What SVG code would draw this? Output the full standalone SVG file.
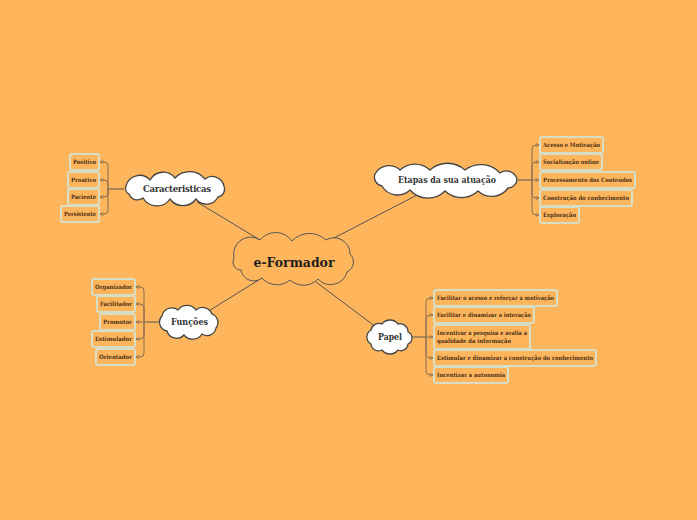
<svg xmlns="http://www.w3.org/2000/svg" width="697" height="520" viewBox="0 0 697 520">
<defs>
<style>
.bg{fill:#FFB55B}
.box{fill:#FFB55B;stroke:#D8DDC5;stroke-width:2}
.lt{font-family:"DejaVu Serif",serif;font-size:6px;font-weight:bold;fill:#4a2e16}
.br{fill:none;stroke:#8a6d50;stroke-width:1}
.ln{fill:none;stroke:#555;stroke-width:1}
.cl{fill:#fff;stroke:#444;stroke-width:1.3}
.cc{fill:#FFB55B;stroke:#555;stroke-width:1}
.ct{font-family:"DejaVu Serif",serif;font-size:8.5px;font-weight:bold;fill:#333;text-anchor:middle}
.mt{font-family:"DejaVu Serif",serif;font-size:13px;font-weight:bold;fill:#1e1e1e;text-anchor:middle}
</style>
<marker id="ar" markerWidth="5" markerHeight="5" refX="4" refY="2" orient="auto" markerUnits="userSpaceOnUse">
<path d="M0.5,0.3 L4,2 L0.5,3.7" fill="none" stroke="#8a6d50" stroke-width="0.8"/>
</marker>
</defs>
<rect class="bg" x="0" y="0" width="697" height="520"/>

<g id="connectors">
<line class="ln" x1="197" y1="202" x2="260" y2="240"/>
<line class="ln" x1="423" y1="192" x2="330" y2="240"/>
<line class="ln" x1="207" y1="312" x2="262" y2="278"/>
<line class="ln" x1="376" y1="327" x2="316" y2="282"/>
<line class="ln" x1="124" y1="189" x2="108" y2="189"/>
<line class="ln" x1="518" y1="180" x2="532" y2="180"/>
<line class="ln" x1="159" y1="322" x2="144" y2="322"/>
<line class="ln" x1="411" y1="337" x2="426" y2="337"/>
<path class="br" marker-end="url(#ar)" d="M108,189 L108,166 Q108,162 104,162 L100,162"/>
<path class="br" marker-end="url(#ar)" d="M108,189 L108,184 Q108,180 104,180 L100,180"/>
<path class="br" marker-end="url(#ar)" d="M108,189 L108,193 Q108,197 104,197 L100,197"/>
<path class="br" marker-end="url(#ar)" d="M108,189 L108,210 Q108,214 104,214 L100,214"/>
<path class="br" marker-end="url(#ar)" d="M532,180 L532,149 Q532,145 536,145 L539,145"/>
<path class="br" marker-end="url(#ar)" d="M532,180 L532,166 Q532,162 536,162 L539,162"/>
<path class="br" marker-end="url(#ar)" d="M532,180 L539,180"/>
<path class="br" marker-end="url(#ar)" d="M532,180 L532,194 Q532,198 536,198 L539,198"/>
<path class="br" marker-end="url(#ar)" d="M532,180 L532,211 Q532,215 536,215 L539,215"/>
<path class="br" marker-end="url(#ar)" d="M144,322 L144,291 Q144,287 140,287 L136,287"/>
<path class="br" marker-end="url(#ar)" d="M144,322 L144,308 Q144,304 140,304 L136,304"/>
<path class="br" marker-end="url(#ar)" d="M144,322 L136,322"/>
<path class="br" marker-end="url(#ar)" d="M144,322 L144,335 Q144,339 140,339 L136,339"/>
<path class="br" marker-end="url(#ar)" d="M144,322 L144,353 Q144,357 140,357 L136,357"/>
<path class="br" marker-end="url(#ar)" d="M426,337 L426,302 Q426,298 430,298 L433,298"/>
<path class="br" marker-end="url(#ar)" d="M426,337 L426,319 Q426,315 430,315 L433,315"/>
<path class="br" marker-end="url(#ar)" d="M426,337 L433,337"/>
<path class="br" marker-end="url(#ar)" d="M426,337 L426,354 Q426,358 430,358 L433,358"/>
<path class="br" marker-end="url(#ar)" d="M426,337 L426,371 Q426,375 430,375 L433,375"/>
</g>

<g id="central">
<path class="cc" d="M234,258 A17,17 0 0 1 260,240 A20,20 0 0 1 292,241 A24,24 0 0 1 326,240 A16,16 0 0 1 350,254 A11,11 0 0 1 347,272 A17,17 0 0 1 318,279 A20,20 0 0 1 290,280 A20,20 0 0 1 262,278 A13,13 0 0 1 241,270 A8,8 0 0 1 234,258 Z"/>
<text class="mt" x="294" y="267" textLength="81" lengthAdjust="spacingAndGlyphs">e-Formador</text>
</g>

<g id="caracteristicas">
<path class="cl" d="M126,186 A14,14 0 0 1 150,180 A15,15 0 0 1 175,178 A20,20 0 0 1 205,179 A12,12 0 0 1 224,186 A8,8 0 0 1 218,197 A13,13 0 0 1 196,199 A16,16 0 0 1 170,199 A16,16 0 0 1 143,198 A9,9 0 0 1 129,194 A6,6 0 0 1 126,186 Z"/>
<text class="ct" x="177" y="192" textLength="68" lengthAdjust="spacing">Caracteristicas</text>
</g>

<g id="etapas">
<path class="cl" d="M375,174 A16,16 0 0 1 400,170 A22,22 0 0 1 430,170 A26,26 0 0 1 465,170 A26,26 0 0 1 500,173 A11,11 0 0 1 517,179 A9,9 0 0 1 508,188 A20,20 0 0 1 478,191 A24,24 0 0 1 445,191 A24,24 0 0 1 410,190 A18,18 0 0 1 382,186 A9,9 0 0 1 375,174 Z"/>
<text class="ct" x="447" y="183" textLength="98" lengthAdjust="spacingAndGlyphs">Etapas da sua atuação</text>
</g>

<g id="funcoes">
<path class="cl" d="M162,316 A10,10 0 0 1 178,310 A11,11 0 0 1 196,310 A10,10 0 0 1 212,314 A9,9 0 0 1 216,328 A9,9 0 0 1 202,334 A11,11 0 0 1 184,335 A10,10 0 0 1 167,331 A9,9 0 0 1 162,316 Z"/>
<text class="ct" x="189.5" y="325" textLength="37" lengthAdjust="spacingAndGlyphs">Funções</text>
</g>

<g id="papel">
<path class="cl" d="M371,330 A8,8 0 0 1 382,324 A10,10 0 0 1 398,324 A8,8 0 0 1 408,332 A6.5,6.5 0 0 1 408,344 A7,7 0 0 1 398,350 A10,10 0 0 1 382,350 A7.5,7.5 0 0 1 371,344 A8,8 0 0 1 371,330 Z"/>
<text class="ct" x="390" y="340" textLength="24" lengthAdjust="spacingAndGlyphs">Papel</text>
</g>

<g id="c-positivo"><rect class="box" x="70" y="154" width="29" height="16" rx="2"/><text class="lt" x="73" y="164" textLength="23" lengthAdjust="spacingAndGlyphs">Positivo</text></g>
<g id="c-proativo"><rect class="box" x="68" y="172" width="31" height="16" rx="2"/><text class="lt" x="71" y="182" textLength="25" lengthAdjust="spacingAndGlyphs">Proativo</text></g>
<g id="c-paciente"><rect class="box" x="68" y="189" width="31" height="16" rx="2"/><text class="lt" x="71" y="199" textLength="25" lengthAdjust="spacingAndGlyphs">Paciente</text></g>
<g id="c-persistente"><rect class="box" x="61" y="206" width="38" height="16" rx="2"/><text class="lt" x="64" y="216" textLength="32" lengthAdjust="spacingAndGlyphs">Persistente</text></g>

<g id="e-acesso"><rect class="box" x="540" y="137" width="63" height="16" rx="2"/><text class="lt" x="543" y="147" textLength="57" lengthAdjust="spacingAndGlyphs">Acesso e Motivação</text></g>
<g id="e-socializacao"><rect class="box" x="540" y="154" width="62" height="16" rx="2"/><text class="lt" x="543" y="164" textLength="56" lengthAdjust="spacingAndGlyphs">Socialização online</text></g>
<g id="e-processamento"><rect class="box" x="540" y="172" width="95" height="16" rx="2"/><text class="lt" x="543" y="182" textLength="89" lengthAdjust="spacingAndGlyphs">Processamento dos Conteúdos</text></g>
<g id="e-construcao"><rect class="box" x="540" y="190" width="92" height="16" rx="2"/><text class="lt" x="543" y="200" textLength="86" lengthAdjust="spacingAndGlyphs">Construção do conhecimento</text></g>
<g id="e-exploracao"><rect class="box" x="540" y="207" width="39" height="16" rx="2"/><text class="lt" x="543" y="217" textLength="33" lengthAdjust="spacingAndGlyphs">Exploração</text></g>

<g id="f-organizador"><rect class="box" x="92" y="279" width="43" height="16" rx="2"/><text class="lt" x="95" y="289" textLength="37" lengthAdjust="spacingAndGlyphs">Organizador</text></g>
<g id="f-facilitador"><rect class="box" x="97" y="296" width="38" height="16" rx="2"/><text class="lt" x="100" y="306" textLength="32" lengthAdjust="spacingAndGlyphs">Facilitador</text></g>
<g id="f-promotor"><rect class="box" x="100" y="314" width="35" height="16" rx="2"/><text class="lt" x="103" y="324" textLength="29" lengthAdjust="spacingAndGlyphs">Promotor</text></g>
<g id="f-estimulador"><rect class="box" x="92" y="331" width="43" height="16" rx="2"/><text class="lt" x="95" y="341" textLength="37" lengthAdjust="spacingAndGlyphs">Estimulador</text></g>
<g id="f-orientador"><rect class="box" x="96" y="349" width="39" height="16" rx="2"/><text class="lt" x="99" y="359" textLength="33" lengthAdjust="spacingAndGlyphs">Orientador</text></g>

<g id="p-acesso"><rect class="box" x="434" y="290" width="123" height="16" rx="2"/><text class="lt" x="437" y="300" textLength="117" lengthAdjust="spacingAndGlyphs">Facilitar o acesso e reforçar a motivação</text></g>
<g id="p-interacao"><rect class="box" x="434" y="307" width="100" height="16" rx="2"/><text class="lt" x="437" y="317" textLength="94" lengthAdjust="spacingAndGlyphs">Facilitar e dinamizar a interação</text></g>
<g id="p-pesquisa"><rect class="box" x="434" y="325" width="96" height="24" rx="2"/><text class="lt" x="437" y="335" textLength="90" lengthAdjust="spacingAndGlyphs">Incentivar a pesquisa e avalia a</text><text class="lt" x="437" y="343" textLength="74" lengthAdjust="spacingAndGlyphs">qualidade da informação</text></g>
<g id="p-estimular"><rect class="box" x="434" y="350" width="162" height="16" rx="2"/><text class="lt" x="437" y="360" textLength="156" lengthAdjust="spacingAndGlyphs">Estimular e dinamizar a construção do conhecimento</text></g>
<g id="p-autonomia"><rect class="box" x="434" y="367" width="74" height="16" rx="2"/><text class="lt" x="437" y="377" textLength="68" lengthAdjust="spacingAndGlyphs">Incentizar a autonomia</text></g>
</svg>
